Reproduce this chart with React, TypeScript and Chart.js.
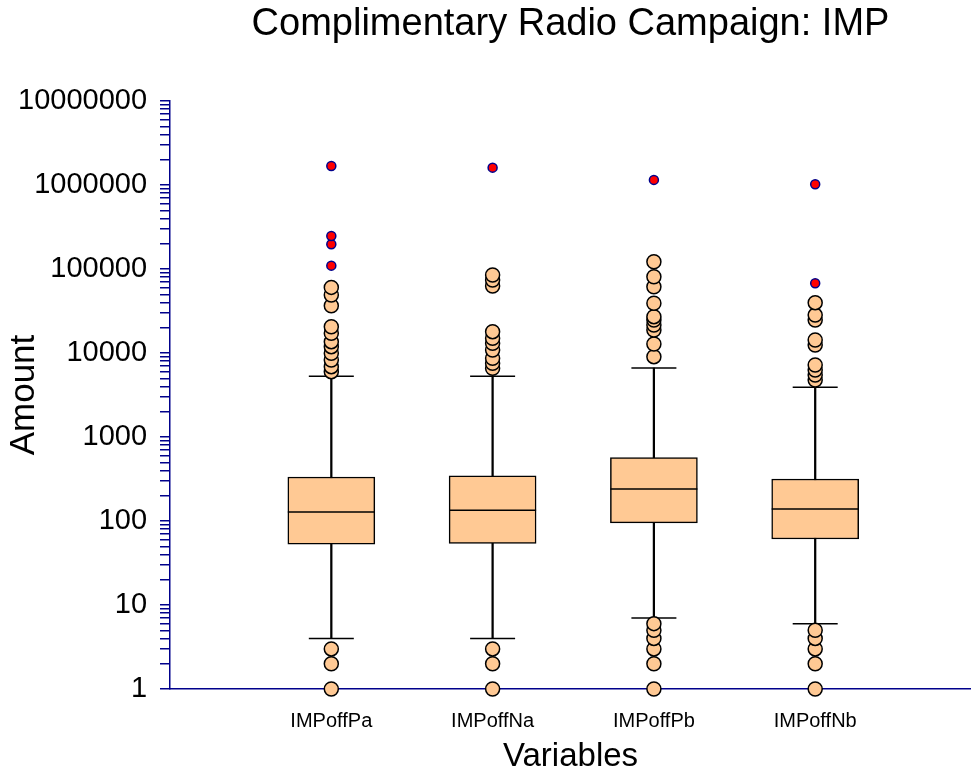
import React, { useEffect, useRef } from 'react';
import { Chart, registerables } from 'chart.js';

Chart.register(...registerables);

// ---- data ----
const categories = ['IMPoffPa', 'IMPoffNa', 'IMPoffPb', 'IMPoffNb'];
const q1Values = [53, 54, 95, 61];
const medianValues = [128, 134, 240, 139];
const q3Values = [334, 345, 570, 316];
const lowerWhiskers = [4, 4, 7, 6];
const upperWhiskers = [5300, 5300, 6630, 3900];

const outliersPa = [1, 2, 3, 5990, 6870, 8260, 9920, 11900, 13640, 17150, 20560, 36550, 49000, 60400];
const outliersNa = [1, 2, 3, 6570, 7540, 8650, 10860, 13040, 14970, 17950, 62800, 74000, 84900];
const outliersPb = [1, 2, 3, 4, 5, 6, 9040, 12800, 18800, 21550, 24700, 27050, 39100, 61500, 80900, 122000];
const outliersNb = [1, 2, 3, 4, 5, 4770, 5470, 6280, 7190, 12450, 14280, 24700, 28300, 39700];

const extremesPa = [109600, 196800, 247000, 1680000];
const extremesNa = [1610000];
const extremesPb = [1150000];
const extremesNb = [67600, 1020000];

const yTickLabels = ['1', '10', '100', '1000', '10000', '100000', '1000000', '10000000'];
const minorMultipliers = [2, 3, 4, 5, 6, 7, 8, 9];

const outlierGroups = [outliersPa, outliersNa, outliersPb, outliersNb];
const extremeGroups = [extremesPa, extremesNa, extremesPb, extremesNb];

const NAVY = '#00008B';
const PEACH = '#FFC994';
const FONT = "'Liberation Sans', Arial, Helvetica, sans-serif";

export default function App() {
  const canvasRef = useRef<HTMLCanvasElement | null>(null);

  useEffect(() => {
    const canvas = canvasRef.current;
    if (!canvas) return;

    const yTickValues: number[] = [];
    yTickLabels.forEach((lbl, i) => {
      const major = Number(lbl);
      yTickValues.push(major);
      if (i < yTickLabels.length - 1) {
        minorMultipliers.forEach((m) => yTickValues.push(m * major));
      }
    });

    const pos = (i: number) => i + 1;

    const noSidePadding = (scale: any) => {
      scale.paddingLeft = 0;
      scale.paddingRight = 0;
    };

    const chart = new Chart(canvas, {
      type: 'bar',
      data: {
        datasets: [
          {
            type: 'bar',
            label: 'whiskers',
            data: categories.map((_, i) => ({ x: pos(i), y: [lowerWhiskers[i], upperWhiskers[i]] })) as any,
            backgroundColor: '#000000',
            borderWidth: 0,
            barThickness: 1.6,
            grouped: false,
            order: 10,
          } as any,
          {
            type: 'bar',
            label: 'boxes',
            data: categories.map((_, i) => ({ x: pos(i), y: [q1Values[i], q3Values[i]] })) as any,
            backgroundColor: PEACH,
            borderColor: '#000000',
            borderWidth: 1.5,
            borderSkipped: false,
            barThickness: 87,
            grouped: false,
            order: 9,
          } as any,
          {
            type: 'scatter',
            label: 'medians',
            data: categories.map((_, i) => ({ x: pos(i), y: medianValues[i] })),
            pointStyle: 'line',
            pointRadius: 43.5,
            borderColor: '#000000',
            borderWidth: 1.5,
            clip: false,
            order: 8,
          } as any,
          {
            type: 'scatter',
            label: 'caps',
            data: categories.flatMap((_, i) => [
              { x: pos(i), y: lowerWhiskers[i] },
              { x: pos(i), y: upperWhiskers[i] },
            ]),
            pointStyle: 'line',
            pointRadius: 22.5,
            borderColor: '#000000',
            borderWidth: 1.5,
            clip: false,
            order: 7,
          } as any,
          {
            type: 'scatter',
            label: 'outliers',
            data: outlierGroups.flatMap((g, i) => g.map((v) => ({ x: pos(i), y: v }))),
            pointStyle: 'circle',
            pointRadius: 7,
            backgroundColor: PEACH,
            borderColor: '#000000',
            borderWidth: 1.5,
            clip: false,
            order: 2,
          } as any,
          {
            type: 'scatter',
            label: 'extremes',
            data: extremeGroups.flatMap((g, i) => g.map((v) => ({ x: pos(i), y: v }))),
            pointStyle: 'circle',
            pointRadius: 4.5,
            backgroundColor: '#FF0000',
            borderColor: NAVY,
            borderWidth: 1.5,
            clip: false,
            order: 1,
          } as any,
        ],
      },
      options: {
        responsive: false,
        animation: false,
        devicePixelRatio: 1,
        events: [],
        layout: { padding: 0, autoPadding: false },
        plugins: {
          legend: { display: false },
          tooltip: { enabled: false },
          title: {
            display: true,
            text: 'Complimentary Radio Campaign: IMP',
            color: '#000000',
            fullSize: false,
            font: { family: FONT, size: 38, weight: 'normal', lineHeight: 1.2 },
            padding: { top: 2.2, bottom: 53.2 },
          },
        },
        scales: {
          x: {
            type: 'linear',
            min: 0,
            max: 4.966,
            offset: false,
            afterBuildTicks: (scale: any) => {
              scale.ticks = categories.map((_, i) => ({ value: pos(i) }));
            },
            afterFit: noSidePadding,
            ticks: {
              autoSkip: false,
              maxRotation: 0,
              color: '#000000',
              padding: 14,
              font: { family: FONT, size: 20, lineHeight: 1.2 },
              callback: (v: any) => categories[Number(v) - 1] ?? '',
            },
            grid: {
              display: true,
              drawOnChartArea: false,
              drawTicks: true,
              tickLength: 6,
              color: NAVY,
              lineWidth: 1.5,
              offset: false,
            },
            border: { display: true, color: NAVY, width: 1.5 },
            title: {
              display: true,
              text: 'Variables',
              color: '#000000',
              font: { family: FONT, size: 33, lineHeight: 1 },
              padding: { top: -6.5, bottom: 0.5 },
            },
          } as any,
          y: {
            type: 'logarithmic',
            min: 1,
            max: 10000000,
            afterBuildTicks: (scale: any) => {
              scale.ticks = yTickValues.map((v) => ({ value: v }));
            },
            afterFit: noSidePadding,
            ticks: {
              autoSkip: false,
              color: '#000000',
              padding: 13,
              font: { family: FONT, size: 29, lineHeight: 1.2 },
              callback: (v: any) => (yTickLabels.includes(String(v)) ? String(v) : ''),
            },
            grid: {
              display: true,
              drawOnChartArea: false,
              drawTicks: true,
              tickLength: 10,
              color: NAVY,
              lineWidth: 1.5,
            },
            border: { display: true, color: NAVY, width: 1.5 },
            title: {
              display: true,
              text: 'Amount',
              color: '#000000',
              font: { family: FONT, size: 35, lineHeight: 1 },
              padding: { top: 7, bottom: -37 },
            },
          } as any,
        },
      },
    });

    return () => chart.destroy();
  }, []);

  return (
    <div style={{ position: 'fixed', left: 0, top: 0, width: 971, height: 774, background: '#ffffff' }}>
      <canvas ref={canvasRef} width={971} height={774} style={{ display: 'block' }} />
    </div>
  );
}
